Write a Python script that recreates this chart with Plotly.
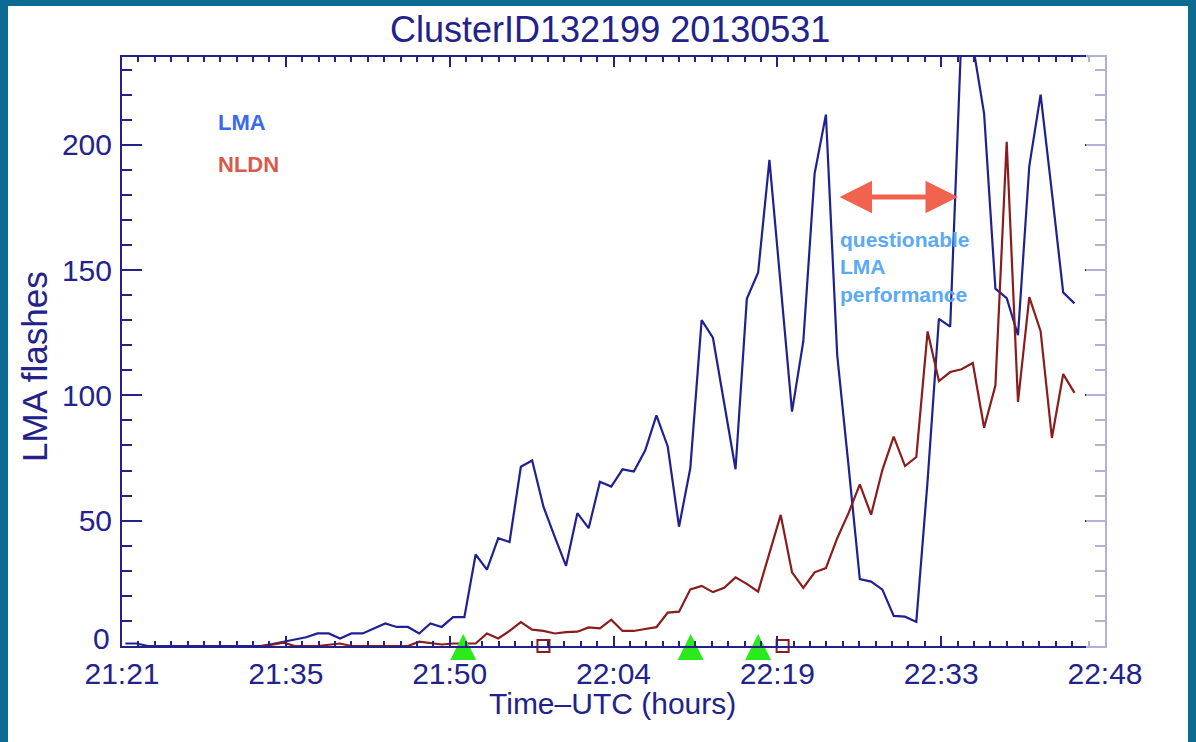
import plotly.graph_objects as go
import pandas as pd

# ---------------- data ----------------
date = "2013-05-31"
lma_start = "21:21:18"          # first LMA sample, 1-minute cadence
nldn_start = "21:33:18"         # first NLDN sample, 1-minute cadence

lma_flashes = [1, 1, 0, 0, 0, 0, 0, 0, 0, 0, 0, 0, 0, 0.8, 1.7, 2.3, 3.5, 5, 5, 3,
               5, 5, 7, 9, 7.6, 7.6, 5, 9, 7.6, 11.5, 11.5, 36.5, 30.5, 43, 41.5, 71.5, 74, 55.6, 43.5, 32,
               53, 47, 65.5, 63.6, 70.5, 69.6, 78, 92, 79.6, 47.6, 71, 130, 123, 97, 70.5, 138.5, 149, 194, 144, 93.5,
               121.6, 188.5, 212, 116, 72, 26.7, 25.7, 22.5, 12, 11.7, 9.6, 66, 130.5, 127.4, 245, 240, 212.4, 142.6, 138.8, 124,
               191.5, 220, 181, 141, 136.7]

nldn_flashes = [0, 0.5, 1.3, 0, 0, 0, 0.5, 1, 0, 0, 0, 0, 0, 0, 1.7, 1.2, 0.6, 1, 1, 1,
                5, 3, 6, 9.5, 6.5, 6, 5, 5.5, 5.7, 7.4, 7, 10.5, 6, 6, 6.8, 7.5, 13.3, 13.7, 22.6, 24,
                21.5, 23.2, 27.4, 24.8, 21.7, 37, 52.3, 29.4, 23.2, 29.4, 31.1, 43, 53, 64.5, 52.4, 70.3, 83.5, 71.8, 75.4, 125.5,
                105.7, 109.3, 110.4, 112.9, 87.1, 103.9, 201.2, 97.4, 139.2, 125.6, 83, 108.5, 101]

triangle_times = ["21:51:12", "22:11:20", "22:17:18"]
square_times = ["21:58:18", "22:19:28"]

axis_start = "21:21:00"
axis_end = "22:48:00"
x_tick_labels = ["21:21", "21:35", "21:50", "22:04", "22:19", "22:33", "22:48"]
y_tick_values = [0, 50, 100, 150, 200]
y_tick_labels = ["", "50", "100", "150", "200"]   # "0" is placed separately, slightly raised

# ---------------- styling ----------------
NAVY = "#22228a"
BLUE_LINE = "#1f2192"
RED_LINE = "#8a1c1c"
SLIDE_BLUE = "#0b6b92"
FONT = "Liberation Sans, Arial, Helvetica, sans-serif"

W, H = 1196, 742
L, R, T, B = 122, 1105, 57, 646   # plot area in pixels


def px(xp):
    return (xp - L) / (R - L)


def py(yp):
    return (B - yp) / (B - T)


lma_t = pd.date_range(f"{date} {lma_start}", periods=len(lma_flashes), freq="min")
nldn_t = pd.date_range(f"{date} {nldn_start}", periods=len(nldn_flashes), freq="min")
t0 = pd.Timestamp(f"{date} {axis_start}")
t1 = pd.Timestamp(f"{date} {axis_end}")
tickvals = pd.date_range(t0, t1, periods=len(x_tick_labels))
tri_t = [pd.Timestamp(f"{date} {s}") for s in triangle_times]
sq_t = [pd.Timestamp(f"{date} {s}") for s in square_times]

fig = go.Figure()
fig.add_trace(go.Scatter(x=lma_t, y=lma_flashes, mode="lines",
                         line=dict(color=BLUE_LINE, width=2.2), name="LMA"))
fig.add_trace(go.Scatter(x=nldn_t, y=nldn_flashes, mode="lines",
                         line=dict(color=RED_LINE, width=2.2), name="NLDN"))
fig.add_trace(go.Scatter(x=tri_t, y=[4.8] * len(tri_t), mode="markers",
                         marker=dict(symbol="arrow-up", size=26, color="#2aea1e",
                                     line=dict(width=0)),
                         cliponaxis=False, name="tri"))
fig.add_trace(go.Scatter(x=sq_t, y=[0] * len(sq_t), mode="markers",
                         marker=dict(symbol="square-open", size=12, color=RED_LINE,
                                     line=dict(width=2, color=RED_LINE)),
                         cliponaxis=False, name="sq"))

fig.update_xaxes(type="date", range=[t0, t1], tickmode="array", tickvals=tickvals,
                 ticktext=x_tick_labels, ticks="inside", ticklen=10, tickwidth=2,
                 tickcolor=NAVY, showline=True, linecolor=NAVY, linewidth=2,
                 mirror="ticks", showgrid=False, zeroline=False,
                 tickfont=dict(family=FONT, size=30, color=NAVY),
                 minor=dict(ticks="inside", ticklen=5, tickwidth=2, tickcolor=NAVY,
                            dtick=87000, tick0=t0, showgrid=False))
fig.update_yaxes(range=[0, 235], tickmode="array", tickvals=y_tick_values,
                 ticktext=y_tick_labels, ticklabelstandoff=2,
                 ticks="inside", ticklen=20, tickwidth=2, tickcolor=NAVY,
                 showline=True, linecolor=NAVY, linewidth=2, mirror="ticks",
                 showgrid=False, zeroline=False,
                 tickfont=dict(family=FONT, size=30, color=NAVY),
                 minor=dict(ticks="inside", ticklen=10, tickwidth=2, tickcolor=NAVY,
                            dtick=10, tick0=0, showgrid=False))

shapes = [
    # white slide panel
    dict(type="rect", xref="paper", yref="paper", x0=px(8), x1=px(1188), y0=py(745), y1=py(6),
         fillcolor="white", line=dict(width=0), layer="below"),
    # faded right edge of the plot frame
    dict(type="rect", xref="paper", yref="paper", x0=px(1086), x1=px(1107), y0=py(650), y1=py(53),
         fillcolor="white", opacity=0.65, line=dict(width=0), layer="above"),
]

annotations = [
    dict(text="ClusterID132199 20130531", xref="paper", yref="paper", x=px(610), y=py(30),
         xanchor="center", yanchor="middle", showarrow=False,
         font=dict(family=FONT, size=36, color=NAVY)),
    dict(text="0", xref="paper", yref="paper", x=px(112), y=py(638),
         xanchor="right", yanchor="middle", showarrow=False,
         font=dict(family=FONT, size=30, color=NAVY)),
    dict(text="Time–UTC (hours)", xref="paper", yref="paper", x=px(612), y=py(703),
         xanchor="center", yanchor="middle", showarrow=False,
         font=dict(family=FONT, size=30, color=NAVY)),
    dict(text="LMA flashes", xref="paper", yref="paper", x=px(34), y=py(367),
         xanchor="center", yanchor="middle", showarrow=False, textangle=-90,
         font=dict(family=FONT, size=35, color=NAVY)),
    dict(text="<b>LMA</b>", xref="paper", yref="paper", x=px(216), y=py(122),
         xanchor="left", yanchor="middle", showarrow=False,
         font=dict(family=FONT, size=22, color="#3b6bec")),
    dict(text="<b>NLDN</b>", xref="paper", yref="paper", x=px(216), y=py(165),
         xanchor="left", yanchor="middle", showarrow=False,
         font=dict(family=FONT, size=22, color="#d95a4a")),
    dict(text="<b>questionable<br>LMA<br>performance</b>", xref="paper", yref="paper",
         x=px(838), y=py(267), xanchor="left", yanchor="middle", align="left",
         showarrow=False, font=dict(family=FONT, size=21, color="#5aaaf6")),
    dict(text="", xref="paper", yref="paper", x=px(958), y=py(197), ax=-120, ay=0,
         showarrow=True, arrowside="end+start", arrowhead=2, arrowsize=1.3,
         arrowwidth=5, arrowcolor="#f2634f"),
]

fig.update_layout(width=W, height=H, margin=dict(l=L, r=W - R, t=T, b=H - B),
                  paper_bgcolor=SLIDE_BLUE, plot_bgcolor="white", showlegend=False,
                  shapes=shapes, annotations=annotations)

fig.write_html("out.html", config={"displayModeBar": False},
               post_script="document.body.style.margin='0';"
                           "document.body.style.background='" + SLIDE_BLUE + "';")
